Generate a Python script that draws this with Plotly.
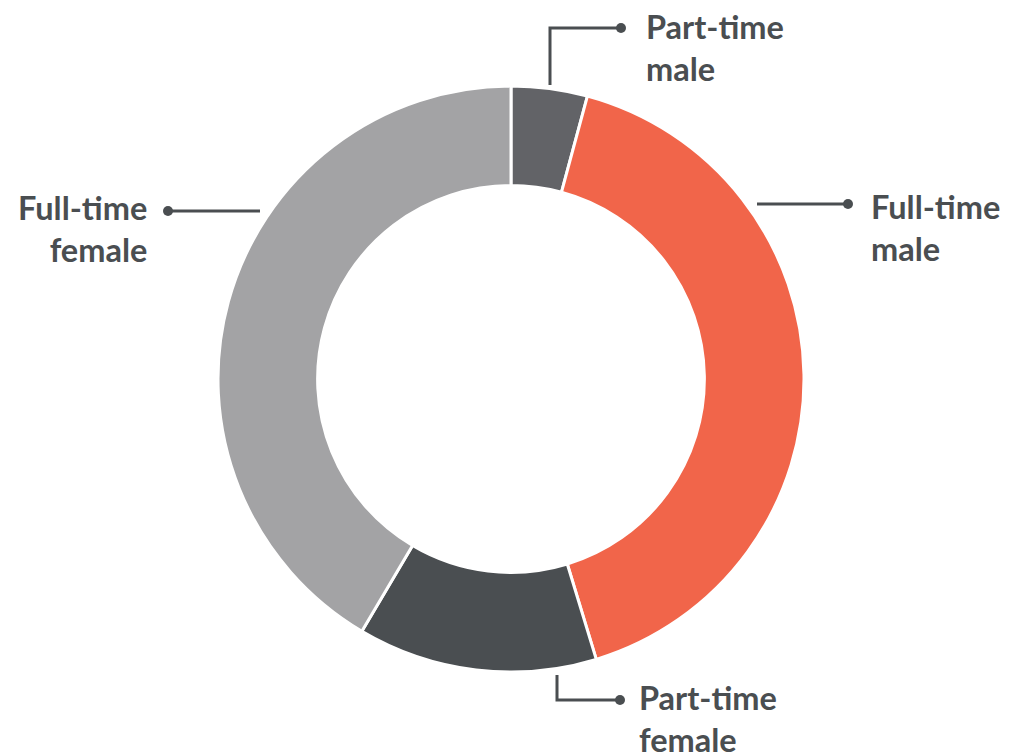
import plotly.graph_objects as go

# ---- data ----
categories = ["Part-time male", "Full-time male", "Part-time female", "Full-time female"]
values = [4.2, 41.1, 13.2, 41.5]
colors = ["#626367", "#F1654A", "#4A4E51", "#A3A3A5"]
label_texts = ["Part-time<br>male", "Full-time<br>male", "Part-time<br>female", "Full-time<br>female"]

W, H = 1011, 756
OFF = 8  # page body offset in the screenshot
ML, MT, PS = 210, 78, 586
MR, MB = W - ML - PS, H - MT - PS
PW, PH = PS, PS

def px(x):
    return (x - OFF - ML) / PW

def py(y):
    return (H - MB - (y - OFF)) / PH

TXT = "#4A4E51"

fig = go.Figure(go.Pie(
    labels=categories,
    values=values,
    hole=0.66,
    sort=False,
    direction="clockwise",
    rotation=0,
    marker=dict(colors=colors, line=dict(color="white", width=3)),
    textinfo="none",
    hoverinfo="label+percent",
    showlegend=False,
))

# leader lines (screen pixel positions of the reference layout)
leaders = [
    [(550, 85), (550, 28), (621, 28)],
    [(757, 204), (848, 204)],
    [(557, 675), (557, 700), (620, 700)],
    [(260, 211), (168, 211)],
]
shapes = []
for pts in leaders:
    path = "M " + " L ".join(f"{px(x)},{py(y)}" for x, y in pts)
    shapes.append(dict(type="path", xref="paper", yref="paper", path=path,
                       line=dict(color=TXT, width=3)))
    ex, ey = pts[-1]
    r = 5
    shapes.append(dict(type="circle", xref="paper", yref="paper",
                       x0=px(ex - r), x1=px(ex + r), y0=py(ey + r), y1=py(ey - r),
                       fillcolor=TXT, line=dict(color=TXT, width=0)))

# label anchors: (x, y_center_of_block, xanchor) in screen pixels
label_pos = [(644, 48, "left"), (869, 227, "left"), (637, 718, "left"), (149, 229, "right")]
annotations = []
for txt, (x, y, xa) in zip(label_texts, label_pos):
    annotations.append(dict(
        text=txt, xref="paper", yref="paper", x=px(x), y=py(y),
        xanchor=xa, yanchor="middle", align=xa, showarrow=False,
        font=dict(family="Lato", size=32.5, color=TXT, weight="bold"),
    ))

fig.update_layout(
    width=W, height=H,
    margin=dict(l=ML, r=MR, t=MT, b=MB),
    paper_bgcolor="white", plot_bgcolor="white",
    shapes=shapes, annotations=annotations,
)

fig.write_html("out.html")
